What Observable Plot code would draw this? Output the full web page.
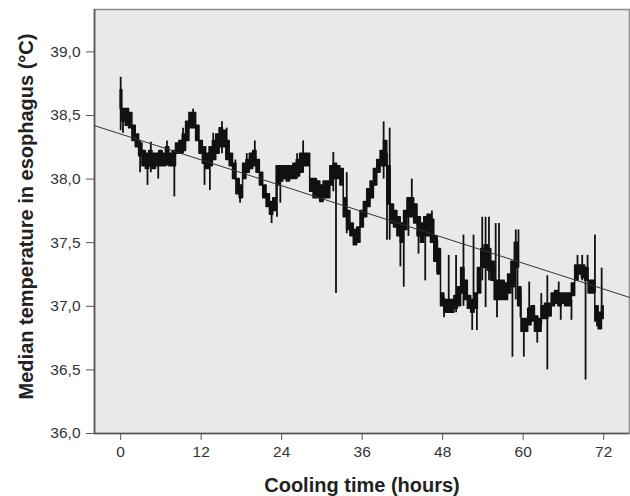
<!DOCTYPE html>
<html>
<head>
<meta charset="utf-8">
<script src="https://cdn.jsdelivr.net/npm/d3@7"></script>
<script src="https://cdn.jsdelivr.net/npm/@observablehq/plot@0.6"></script>
<style>
  html, body { margin: 0; padding: 0; background: #fff; }
  #chart svg { display: block; }
</style>
</head>
<body>
<div id="chart"></div>
<script>
// ---- Data ----
const xTicks = [0, 12, 24, 36, 48, 60, 72];
const yTicks = [36.0, 36.5, 37.0, 37.5, 38.0, 38.5, 39.0];
const xLabel = "Cooling time (hours)";
const yLabel = "Median temperature in esophagus (°C)";

// envelope of the dense median trace (min / max in each half hour)
const bandHour = [0,0.5,1,1.5,2,2.5,3,3.5,4,4.5,5,5.5,6,6.5,7,7.5,8,8.5,9,9.5,10,10.5,11,11.5,12,12.5,13,13.5,14,14.5,15,15.5,16,16.5,17,17.5,18,18.5,19,19.5,20,20.5,21,21.5,22,22.5,23,23.5,24,24.5,25,25.5,26,26.5,27,27.5,28,28.5,29,29.5,30,30.5,31,31.5,32,32.5,33,33.5,34,34.5,35,35.5,36,36.5,37,37.5,38,38.5,39,39.5,40,40.5,41,41.5,42,42.5,43,43.5,44,44.5,45,45.5,46,46.5,47,47.5,48,48.5,49,49.5,50,50.5,51,51.5,52,52.5,53,53.5,54,54.5,55,55.5,56,56.5,57,57.5,58,58.5,59,59.5,60,60.5,61,61.5,62,62.5,63,63.5,64,64.5,65,65.5,66,66.5,67,67.5,68,68.5,69,69.5,70,70.5,71,71.5,72];
const bandLow = [38.55,38.45,38.42,38.40,38.30,38.25,38.18,38.10,38.08,38.10,38.08,38.10,38.10,38.10,38.12,38.10,38.10,38.20,38.20,38.22,38.30,38.40,38.40,38.30,38.20,38.12,38.08,38.10,38.15,38.20,38.25,38.25,38.15,38.10,38.00,37.88,37.85,38.00,38.05,38.08,38.10,38.05,37.95,37.85,37.78,37.72,37.75,37.95,37.98,38.00,37.98,38.00,38.00,38.02,38.05,38.10,38.10,37.90,37.85,37.85,37.82,37.85,37.85,37.95,38.00,38.00,37.95,37.70,37.60,37.55,37.48,37.50,37.62,37.70,37.78,37.85,37.95,38.05,38.10,38.10,37.80,37.65,37.62,37.55,37.50,37.60,37.70,37.70,37.65,37.55,37.50,37.55,37.55,37.50,37.35,37.25,37.00,36.95,36.95,36.95,36.98,37.00,37.10,37.05,36.98,36.95,36.98,37.10,37.30,37.30,37.28,37.20,37.05,37.05,37.05,37.05,37.10,37.15,37.30,37.00,36.80,36.80,36.85,36.88,36.80,36.80,36.90,36.90,36.92,37.00,37.02,37.00,37.02,37.00,37.00,37.08,37.20,37.25,37.22,37.20,37.10,37.10,36.88,36.82,36.90];
const bandHigh = [38.70,38.55,38.55,38.52,38.42,38.35,38.28,38.22,38.20,38.22,38.20,38.20,38.22,38.20,38.25,38.20,38.22,38.28,38.30,38.35,38.45,38.52,38.52,38.42,38.30,38.25,38.20,38.25,38.30,38.35,38.40,38.38,38.30,38.20,38.12,38.00,37.95,38.12,38.15,38.20,38.22,38.15,38.05,37.95,37.88,37.82,37.85,38.10,38.10,38.10,38.10,38.10,38.12,38.15,38.20,38.20,38.20,38.00,38.00,37.98,37.95,37.98,37.98,38.10,38.12,38.10,38.08,37.85,37.75,37.65,37.60,37.62,37.75,37.82,37.92,37.98,38.08,38.15,38.22,38.30,38.10,37.80,37.75,37.70,37.65,37.75,37.85,37.85,37.80,37.70,37.65,37.70,37.72,37.68,37.55,37.45,37.10,37.05,37.05,37.05,37.08,37.15,37.30,37.20,37.08,37.05,37.10,37.30,37.45,37.48,37.45,37.35,37.20,37.20,37.20,37.18,37.25,37.35,37.50,37.15,36.90,36.90,36.98,37.00,36.92,36.90,37.00,37.02,37.02,37.10,37.12,37.10,37.10,37.10,37.10,37.18,37.32,37.32,37.32,37.30,37.20,37.20,37.00,36.95,37.00];

// short excursions (single readings) of the trace
const spikeHour = [0,0.35,2.9,4.0,4.5,5.6,6.9,8.0,9.3,10.8,12.5,13.3,13.8,15.1,15.8,17.1,17.8,18.8,20.0,22.5,23.3,23.8,26.3,27.2,31.7,32.1,33.7,39.2,39.7,40.1,41.7,42.2,42.9,43.4,44.4,45.4,46.4,47.2,48.2,48.9,50.0,51.1,52.4,52.6,53.1,53.9,54.4,54.9,55.9,56.1,56.4,58.4,58.9,59.3,59.6,60.1,60.9,62.1,62.7,63.6,65.3,65.6,67.2,68.1,68.8,69.3,69.6,70.7,71.0,71.7];
const spikeLow = [38.38,38.36,38.05,37.95,38.05,38.00,38.10,37.86,38.20,38.40,37.95,37.91,38.15,38.20,38.25,37.99,37.81,38.05,38.10,37.65,37.70,37.81,38.00,38.05,37.90,37.10,37.57,38.00,37.52,37.52,37.31,37.15,37.55,37.70,37.41,37.20,37.50,37.26,36.91,36.95,36.95,37.00,36.81,36.95,36.81,37.20,36.99,37.20,37.20,36.91,37.10,36.60,37.05,37.30,36.91,36.60,36.85,36.71,36.85,36.50,37.05,36.89,36.89,37.20,37.20,36.42,37.20,37.10,36.84,36.90];
const spikeHigh = [38.80,38.55,38.30,38.20,38.29,38.20,38.30,38.20,38.40,38.55,38.25,38.15,38.36,38.45,38.40,38.15,37.95,38.20,38.30,37.80,38.09,38.10,38.20,38.30,38.21,38.05,38.05,38.45,38.20,38.40,37.65,37.60,37.83,38.00,37.70,37.65,37.75,37.52,37.07,37.40,37.40,37.56,37.05,37.56,37.05,37.70,37.70,37.70,37.65,37.20,37.65,37.20,37.60,37.60,37.10,36.90,37.19,36.90,37.10,37.24,37.19,37.05,37.05,37.40,37.40,37.30,37.40,37.56,37.00,37.30];

// fitted linear trend, at the two ends of the plotting range
const trendHour = [-3.9, 75.85];
const trendTemp = [38.42, 37.07];

const xDomain = [-3.9, 75.85];
const yDomain = [36.0, 39.333];

// ---- Build tables ----
const band = bandHour.map((h, i) => ({hour: h, lo: bandLow[i], hi: bandHigh[i]}));
const spikes = spikeHour.map((h, i) => ({hour: h, lo: spikeLow[i], hi: spikeHigh[i]}));
const trend = trendHour.map((h, i) => ({hour: h, temp: trendTemp[i]}));

const fmt = d => d.toFixed(1).replace(".", ",");

const chart = Plot.plot({
  width: 630,
  height: 496,
  marginLeft: 94,
  marginRight: 1,
  marginTop: 9,
  marginBottom: 63,
  style: {fontFamily: "'Liberation Sans', Arial, sans-serif", background: "#fff"},
  x: {domain: xDomain, label: null},
  y: {domain: yDomain, label: null},
  marks: [
    Plot.frame({fill: "#e9e9e9", stroke: "#8a8a8a", strokeWidth: 1.5}),
    Plot.ruleX([xDomain[0]], {stroke: "#555", strokeWidth: 1.6}),
    Plot.ruleY([yDomain[0]], {stroke: "#555", strokeWidth: 1.6}),
    Plot.areaY(band, {x: "hour", y1: "lo", y2: "hi", curve: "step", fill: "#111", stroke: "#111", strokeWidth: 1.5}),
    Plot.ruleX(spikes, {x: "hour", y1: "lo", y2: "hi", stroke: "#111", strokeWidth: 1.8}),
    Plot.line(trend, {x: "hour", y: "temp", stroke: "#333", strokeWidth: 1}),
    Plot.axisY(yTicks, {tickFormat: fmt, tickSize: 8, tickPadding: 6, fontSize: 15.5, color: "#333", stroke: "#555", label: null}),
    Plot.axisX(xTicks, {tickSize: 7, tickPadding: 5, fontSize: 15.5, color: "#333", stroke: "#555", label: null}),
    Plot.text([xLabel], {frameAnchor: "bottom", dy: 52, lineAnchor: "middle", textAnchor: "middle", fontSize: 20, fontWeight: "bold", fill: "#222", text: d => d}),
    Plot.text([yLabel], {frameAnchor: "left", dx: -68, dy: -5, rotate: -90, lineAnchor: "middle", textAnchor: "middle", fontSize: 20, fontWeight: "bold", fill: "#222", text: d => d})
  ]
});
document.getElementById("chart").appendChild(chart);
</script>
</body>
</html>
